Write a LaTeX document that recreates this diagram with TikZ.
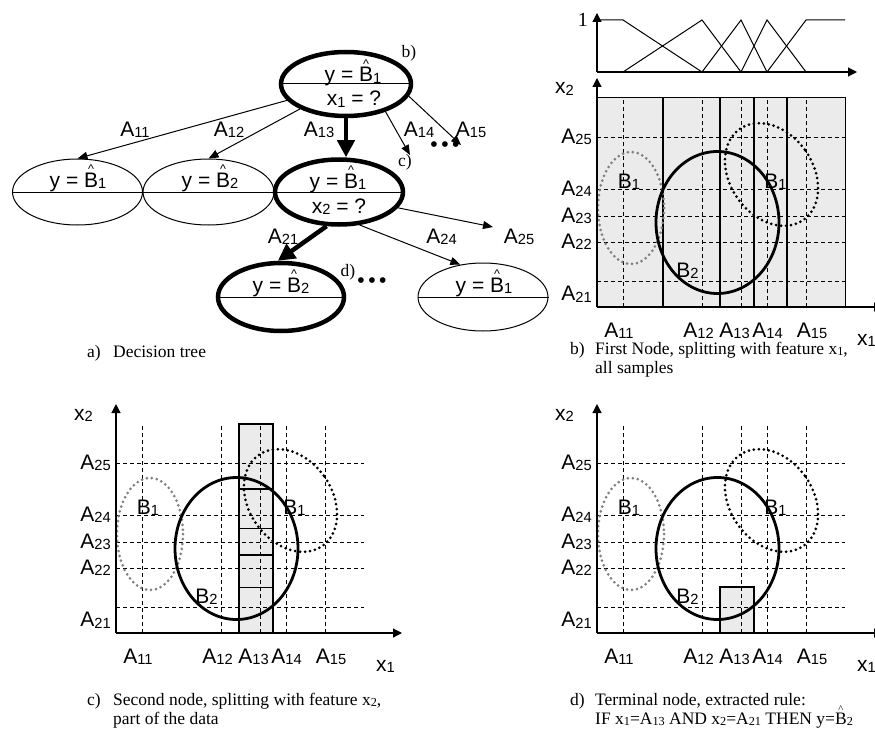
\documentclass[tikz,border=0pt]{standalone}
\usepackage{graphicx}
\usepackage{fontspec}
\setmainfont{Liberation Sans}
\newfontfamily\serif{Liberation Serif}
\usetikzlibrary{arrows.meta,shapes.geometric}
\newcommand\su[1]{\raisebox{-0.08em}{\scalebox{0.7}{#1}}}
\newcommand\hB[1]{{\ooalign{B\cr\hidewidth\raisebox{0.66em}{\scalebox{0.6}{\textasciicircum}}\hidewidth\cr}}\su{#1}}
\tikzset{
  lab/.style={font=\fontsize{21}{24}\selectfont, inner sep=0pt},
  captext/.style={font=\serif\fontsize{17.5}{19}\selectfont, inner sep=0pt, anchor=base west},
  letter/.style={font=\serif\fontsize{17.5}{19}\selectfont, inner sep=0pt},
  tnode/.style={ellipse, draw, line width=1pt, inner sep=0pt},
  boldnode/.style={line width=4.5pt},
  thinarrow/.style={line width=1pt, -{Triangle[length=10pt,width=8pt]}},
  thickarrow/.style={line width=4.5pt, -{Triangle[length=17pt,width=17pt]}},
  midline/.style={line width=1pt},
  gridline/.style={line width=0.9pt, dash pattern=on 4pt off 3pt},
  axisline/.style={line width=1.2pt, -{Triangle[length=9pt,width=9pt]}},
  dotgrey/.style={draw=black!50, line width=3pt, line cap=round, dash pattern=on 0pt off 5pt},
  dotblack/.style={draw=black, line width=3pt, line cap=round, dash pattern=on 0pt off 5pt},
  bigell/.style={draw=black, line width=2.8pt},
  splitline/.style={line width=1.8pt},
  greyfill/.style={fill=black!8},
  mfline/.style={line width=1pt},
}
\newcommand\gridlines{%
  \foreach \yy in {170,118,91,65,26} {\draw[gridline] (0,-\yy) -- (248,-\yy);}
  \foreach \xx in {26,105,144,170,209} {\draw[gridline] (\xx,0) -- (\xx,-209);}
}
\newcommand\panelbody[1]{%
  \draw[dotgrey] (34,-99) ellipse [x radius=33, y radius=56];
  \draw[bigell] (120.5,-84.5) ellipse [x radius=61.5, y radius=71];
  \draw[dotblack, rotate around={35:(174.5,-132.5)}] (174.5,-132.5) ellipse [x radius=41.5, y radius=55.5];
  \node[lab, anchor=base] (#1b1l) at (32,-119) {B\su1};
  \node[lab, anchor=base] (#1b1r) at (178.5,-119) {B\su1};
  \node[lab, anchor=base] (#1b2) at (90.5,-30) {B\su2};
  \node[lab, anchor=base east] (#1a25) at (-5,-164) {A\su{25}};
  \node[lab, anchor=base east] (#1a24) at (-5,-112) {A\su{24}};
  \node[lab, anchor=base east] (#1a23) at (-5,-85) {A\su{23}};
  \node[lab, anchor=base east] (#1a22) at (-5,-59) {A\su{22}};
  \node[lab, anchor=base east] (#1a21) at (-5,-6.5) {A\su{21}};
  \node[lab, anchor=base] (#1a11) at (22,30) {A\su{11}};
  \node[lab, anchor=base] (#1a12) at (101.5,30) {A\su{12}};
  \node[lab, anchor=base] (#1a13) at (137.5,30) {A\su{13}};
  \node[lab, anchor=base] (#1a14) at (170.5,30) {A\su{14}};
  \node[lab, anchor=base] (#1a15) at (215,30) {A\su{15}};
  \node[lab, anchor=base west] (#1x1) at (260,38) {x\su1};
  \node[lab, anchor=base west] (#1x2) at (-42,-213) {x\su2};
  \draw[axisline] (0,0) -- (286,0);
  \draw[axisline] (0,0) -- (0,-229);
}
\begin{document}
\begin{tikzpicture}[x=1pt,y=-1pt]
\useasboundingbox (0,0) rectangle (875,733);

% ---------------- a) decision tree ----------------
\node[tnode, boldnode, minimum width=130pt, minimum height=64pt] (root) at (346,84) {};
\node[tnode, minimum width=130pt, minimum height=66pt] (leaf1) at (77.5,192) {};
\node[tnode, minimum width=131pt, minimum height=66pt] (leaf2) at (208.5,192) {};
\node[tnode, boldnode, minimum width=128pt, minimum height=65pt] (nc) at (339,192) {};
\node[tnode, boldnode, minimum width=126pt, minimum height=68pt] (nd) at (281,297) {};
\node[tnode, minimum width=130pt, minimum height=68pt] (nr) at (483,297) {};
\foreach \n in {root,leaf1,leaf2,nc,nd,nr} {\draw[midline] (\n.west) -- (\n.east);}

\node[lab, anchor=base] (roott) at (353,82) {y = \hB1};
\node[lab, anchor=base] (rootb) at (354,106) {x\su1 = ?};
\node[lab, anchor=base] (leaf1t) at (78,187) {y = \hB1};
\node[lab, anchor=base] (leaf2t) at (210,187) {y = \hB2};
\node[lab, anchor=base] (nct) at (338,188) {y = \hB1};
\node[lab, anchor=base] (ncb) at (339,213) {x\su2 = ?};
\node[lab, anchor=base] (ndt) at (281,292) {y = \hB2};
\node[lab, anchor=base] (nrt) at (484,292) {y = \hB1};

\coordinate (e14) at (410,155);
\coordinate (e15) at (461,145);
\coordinate (e25) at (493,227);
\draw[thinarrow] (root) -- (leaf1.north);
\draw[thinarrow] (root) -- (leaf2.north);
\draw[thickarrow] (root.south) -- (root.south |- nc.north);
\draw[thinarrow] (root.-35) -- (e14);
\draw[thinarrow] (root.-11) -- (e15);
\draw[thinarrow] (nc.-15) -- (e25);
\draw[thinarrow] (nc.-58) -- (nr.125);
\draw[thickarrow] (nc.-110) -- (nd.95);

\node[lab, anchor=base] (la11) at (135,136) {A\su{11}};
\node[lab, anchor=base] (la12) at (229,136) {A\su{12}};
\node[lab, anchor=base] (la13) at (319,136) {A\su{13}};
\node[lab, anchor=base] (la14) at (419,136) {A\su{14}};
\node[lab, anchor=base] (la15) at (471,136) {A\su{15}};
\node[lab, anchor=base] (la21) at (283,243) {A\su{21}};
\node[lab, anchor=base] (la24) at (441.5,243) {A\su{24}};
\node[lab, anchor=base] (la25) at (519,243) {A\su{25}};
\node[lab] (dots1) at (445,147) {\textbullet\,\textbullet\,\textbullet};
\node[lab] (dots2) at (372,283) {\textbullet\,\textbullet\,\textbullet};
\node[letter] (lb) at (409,53) {b)};
\node[letter] (lc) at (405,162) {c)};
\node[letter] (ld) at (348,272) {d)};

\node[captext] (capa1) at (87,357) {a)};
\node[captext] (capa2) at (113,357) {Decision tree};

% ---------------- b) membership functions ----------------
\begin{scope}[shift={(597,72)}]
  \draw[mfline] (0,-52) -- (26,-52) -- (105,0);
  \draw[mfline] (26,0) -- (105,-52) -- (144,0);
  \draw[mfline] (105,0) -- (144,-52) -- (170,0);
  \draw[mfline] (144,0) -- (170,-52) -- (209,0);
  \draw[mfline] (170,0) -- (209,-52) -- (248,-52);
  \draw[axisline] (0,0) -- (260,0);
  \draw[axisline] (0,0) -- (0,-59);
  \node[font=\serif\fontsize{20}{20}\selectfont, anchor=east, inner sep=0pt] (one) at (-9,-52) {1};
\end{scope}

% ---------------- b) first node ----------------
\begin{scope}[shift={(597,307)}]
  \fill[greyfill] (0,0) rectangle (248,-209);
  \gridlines
  \draw[line width=1pt] (0,-209) -- (248,-209) -- (248,0);
  \foreach \xx in {66,123,157,190} {\draw[splitline] (\xx,0) -- (\xx,-209);}
  \panelbody{pb}
\end{scope}
\node[captext] (capb1) at (570,354) {b)};
\node[captext] (capb2) at (595,354) {First Node, splitting with feature x\su1,};
\node[captext] (capb3) at (595,373) {all samples};

% ---------------- c) second node ----------------
\begin{scope}[shift={(116,633)}]
  \fill[greyfill] (123,0) rectangle (157,-209);
  \gridlines
  \draw[line width=1.5pt] (123,0) rectangle (157,-209);
  \foreach \yy in {144,104.5,78,45.5} {\draw[line width=1.5pt] (123,-\yy) -- (157,-\yy);}
  \panelbody{pc}
\end{scope}
\node[captext] (capc1) at (87,705) {c)};
\node[captext] (capc2) at (113,705) {Second node, splitting with feature x\su2,};
\node[captext] (capc3) at (113,724) {part of the data};

% ---------------- d) terminal node ----------------
\begin{scope}[shift={(597,633)}]
  \fill[greyfill] (123,0) rectangle (157,-46);
  \gridlines
  \draw[line width=1.5pt] (123,0) rectangle (157,-46);
  \panelbody{pd}
\end{scope}
\node[captext] (capd1) at (570,705) {d)};
\node[captext] (capd2) at (595,705) {Terminal node, extracted rule:};
\node[captext] (capd3) at (595,724) {IF x\su1=A\su{13} AND x\su2=A\su{21} THEN y=\hB2};
\end{tikzpicture}
\end{document}
